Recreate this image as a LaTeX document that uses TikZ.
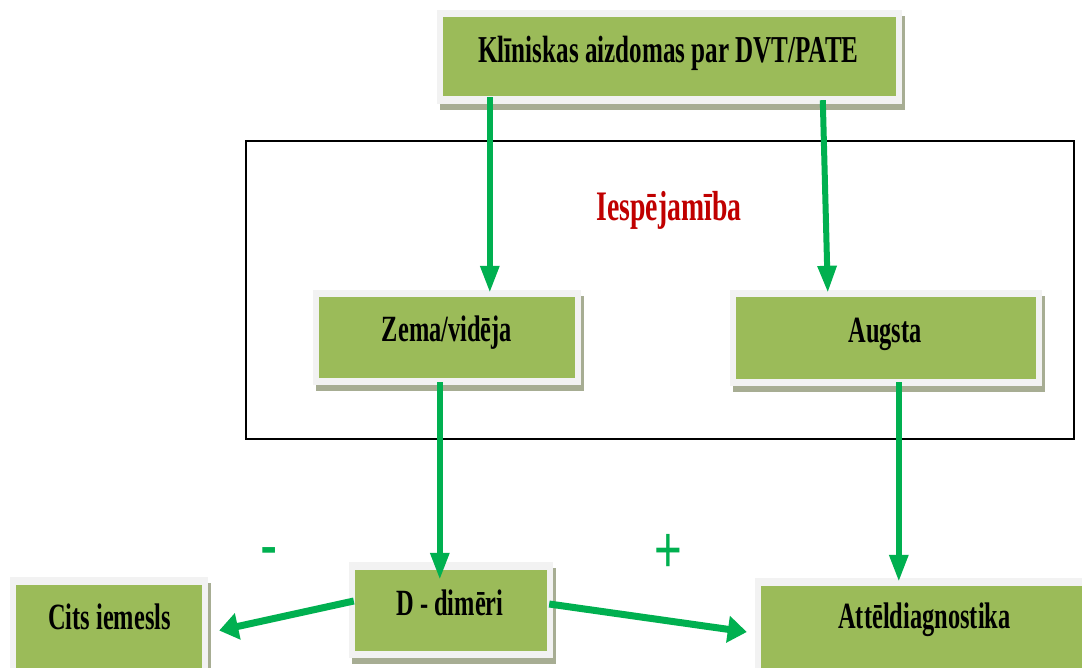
\documentclass[tikz,border=0pt]{standalone}
\usepackage{fontspec}
\setmainfont[FakeStretch=0.66]{Liberation Serif}
\newfontfamily\signfont[FakeStretch=0.72]{Liberation Sans}
\usetikzlibrary{arrows.meta,calc,shadows}

\definecolor{boxgreen}{HTML}{9BBB59}
\definecolor{framegray}{HTML}{F2F2F2}
\definecolor{shadowgray}{HTML}{A7AD93}
\definecolor{arrowgreen}{HTML}{00B050}
\definecolor{darkred}{HTML}{C00000}

\tikzset{
  stepbox/.style={
    rectangle, inner sep=0pt, fill=framegray,
    general shadow={fill=shadowgray, shadow xshift=3pt, shadow yshift=-6pt},
    path picture={
      \fill[boxgreen]
        ([shift={(6pt,7.5pt)}]path picture bounding box.south west)
        rectangle
        ([shift={(-6pt,-7.5pt)}]path picture bounding box.north east);
    }
  },
  boxtext/.style={anchor=base, inner sep=0pt, font=\bfseries\fontsize{37}{40}\selectfont},
  vflow/.style={draw=arrowgreen, line width=6pt,
    -{Triangle[length=27pt,width=18pt]}, fill=arrowgreen},
  dflow/.style={draw=arrowgreen, line width=7pt,
    -{Triangle[length=19pt,width=26pt]}, fill=arrowgreen},
  sign/.style={anchor=base, inner sep=0pt, text=arrowgreen,
    font=\signfont\fontsize{72}{80}\selectfont}
}

\begin{document}
\begin{tikzpicture}[x=1pt, y=-1pt]
  \clip (0,0) rectangle (1082,668);
  \fill[white] (0,0) rectangle (1082,668);

  % probability frame
  \node[draw=black, line width=2pt, minimum width=828pt, minimum height=298pt,
        inner sep=0pt] (prob) at (660,290) {};

  % boxes (outer frame extents)
  \node[stepbox, minimum width=465pt, minimum height=94pt] (top)    at (669.5,57)   {};
  \node[stepbox, minimum width=268pt, minimum height=95pt] (zema)   at (447,337.5)  {};
  \node[stepbox, minimum width=312pt, minimum height=96pt] (augsta) at (886,338)    {};
  \node[stepbox, minimum width=204pt, minimum height=96pt] (ddim)   at (451,610)    {};
  \node[stepbox, minimum width=198pt, minimum height=113pt] (cits)  at (109,633.5)  {};
  \node[stepbox, minimum width=355pt, minimum height=112pt] (att)   at (932.5,634)  {};

  % connectors
  \draw[vflow] ($(top.south west)+(53,-7)$)    -- ($(zema.north west)+(177,3)$);
  \draw[vflow] ($(top.south west)+(386,-4)$)   -- ($(augsta.north west)+(98,3)$);
  \draw[vflow] ($(zema.south west)+(127,-3)$)  -- ($(ddim.north west)+(91,18)$);
  \draw[vflow] ($(augsta.south west)+(169,-4)$) -- ($(att.north west)+(144,4)$);
  \draw[dflow] ($(ddim.west)+(5,-9)$) -- ($(cits.east)+(11,-3)$);
  \draw[dflow] ($(ddim.east)+(-4,-6)$) -- ($(att.west)+(-8,-2)$);

  % labels
  \node[boxtext, font=\bfseries\fontsize{38}{40}\selectfont] (ttop) at (668.5,63) {Klīniskas aizdomas par DVT/PATE};
  \node[boxtext, text=darkred, font=\bfseries\fontsize{42}{44}\selectfont] (tprob) at (669,221) {Iespējamība};
  \node[boxtext] (tzema)   at (447,342)   {Zema/vidēja};
  \node[boxtext] (taugsta) at (885,343)   {Augsta};
  \node[boxtext] (tddim)   at (450,615)   {D - dimēri};
  \node[boxtext] (tcits)   at (109.5,629) {Cits iemesls};
  \node[boxtext] (tatt)    at (924.5,628) {Attēldiagnostika};

  \node[sign] (minus) at (269,569) {-};
  \node[sign, font=\signfont\fontsize{66}{80}\selectfont] (plus) at (668,572) {+};
\end{tikzpicture}
\end{document}
